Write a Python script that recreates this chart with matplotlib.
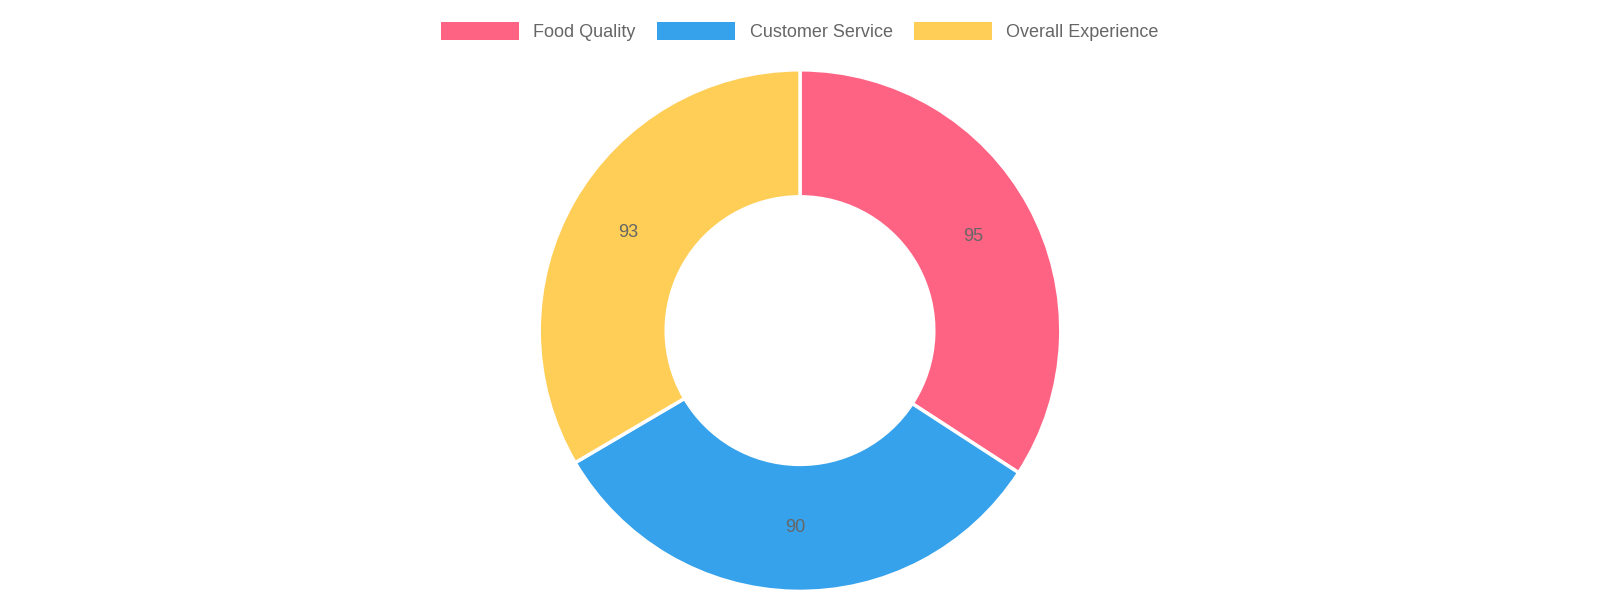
import matplotlib
matplotlib.use("Agg")
import matplotlib.pyplot as plt
from matplotlib.patches import Patch

categories = ["Food Quality", "Customer Service", "Overall Experience"]
values = [95, 90, 93]
colors = ["#FF6384", "#36A2EB", "#FFCE56"]

plt.rcParams['font.family'] = ['Liberation Sans', 'DejaVu Sans']
fig = plt.figure(figsize=(16, 6), dpi=100)
ax = fig.add_axes([0.335, 0.010, 0.330, 0.878])
wedges, texts = ax.pie(values, colors=colors, startangle=90, counterclock=False,
                       radius=1.0,
                       wedgeprops=dict(width=0.487, edgecolor='white', linewidth=2.5))
import numpy as np
total = sum(values)
ang = 90.0
for v in values:
    mid = np.deg2rad(ang - v / total * 180)
    ax.text(0.757 * np.cos(mid), 0.757 * np.sin(mid), str(v), ha='center', va='center',
            fontsize=13, color='#666666')
    ang -= v / total * 360
ax.set_xlim(-1.01, 1.01); ax.set_ylim(-1.01, 1.01); ax.set_aspect('equal')
ax.axis('off')

handles = [Patch(facecolor=c, edgecolor='none') for c in colors]
fig.legend(handles, categories, loc='center', bbox_to_anchor=(0.5, 0.947), ncol=3,
           frameon=False, fontsize=13, labelcolor='#666666', handlelength=4.3,
           handleheight=1.15, handletextpad=0.8, columnspacing=1.2)
fig.savefig("out.png", dpi=100, facecolor='white')
